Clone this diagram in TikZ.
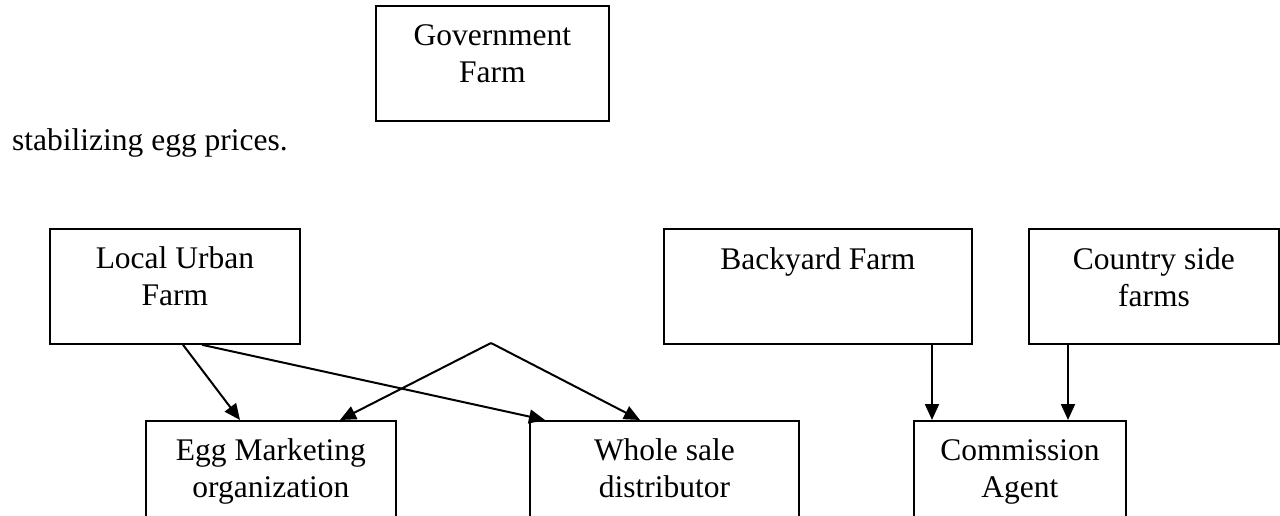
\documentclass[tikz,border=0pt]{standalone}
\usepackage{fontspec}
\setmainfont{Liberation Serif}
\usetikzlibrary{arrows.meta,calc}
\begin{document}
\begin{tikzpicture}[x=1pt,y=-1pt,
  box/.style={draw=black,line width=1.8pt,inner sep=0pt,anchor=north west},
  txt/.style={inner sep=0pt,anchor=north,align=center,font=\fontsize{31.5}{37}\selectfont},
  plain/.style={inner sep=0pt,anchor=base west,font=\fontsize{31.5}{37}\selectfont},
  arr/.style={line width=2pt,-{Triangle[length=16pt,width=14pt]}}]
\useasboundingbox (0,0) rectangle (1280,516);
\fill[white] (0,0) rectangle (1280,516);
\clip (0,0) rectangle (1280,516);
% boxes
\node[box,minimum width=233pt,minimum height=115pt] (gov) at (375,5) {};
\node[box,minimum width=250pt,minimum height=115pt] (lu) at (49,228) {};
\node[box,minimum width=308pt,minimum height=115pt] (back) at (663,228) {};
\node[box,minimum width=250pt,minimum height=115pt] (country) at (1028,228) {};
\node[box,minimum width=250pt,minimum height=130pt] (egg) at (145,420) {};
\node[box,minimum width=269pt,minimum height=130pt] (whole) at (529,420) {};
\node[box,minimum width=212pt,minimum height=130pt] (comm) at (913,420) {};
% texts (first baseline 40pt below box top)
\node[txt] (govt) at ($(gov.north)+(0,15)$) {\rule{0pt}{25pt}Government\\Farm};
\node[txt] (lut) at ($(lu.north)+(0,15)$) {\rule{0pt}{25pt}Local Urban\\Farm};
\node[txt] (backt) at ($(back.north)+(0,16)$) {\rule{0pt}{25pt}Backyard Farm};
\node[txt] (countryt) at ($(country.north)+(0,16)$) {\rule{0pt}{25pt}Country side\\farms};
\node[txt] (eggt) at ($(egg.north)+(0,15)$) {\rule{0pt}{25pt}Egg Marketing\\organization};
\node[txt] (wholet) at ($(whole.north)+(0,15)$) {\rule{0pt}{25pt}Whole sale\\distributor};
\node[txt] (commt) at ($(comm.north)+(0,15)$) {\rule{0pt}{25pt}Commission\\Agent};
\node[plain] (stab) at (12,150) {stabilizing egg prices.};
% connectors
\coordinate (apex) at (491,343);
\draw[arr] ($(lu.south west)+(134,0)$) -- ($(egg.north west)+(95,0)$);
\draw[arr] ($(lu.south west)+(153,0)$) -- ($(whole.north west)+(16,0)$);
\draw[arr] (apex) -- ($(egg.north west)+(195,0)$);
\draw[arr] (apex) -- ($(whole.north west)+(111,0)$);
\draw[arr] ($(back.south west)+(269,0)$) -- ($(comm.north west)+(19,0)$);
\draw[arr] ($(country.south west)+(40,0)$) -- ($(comm.north west)+(155,0)$);
\end{tikzpicture}
\end{document}
